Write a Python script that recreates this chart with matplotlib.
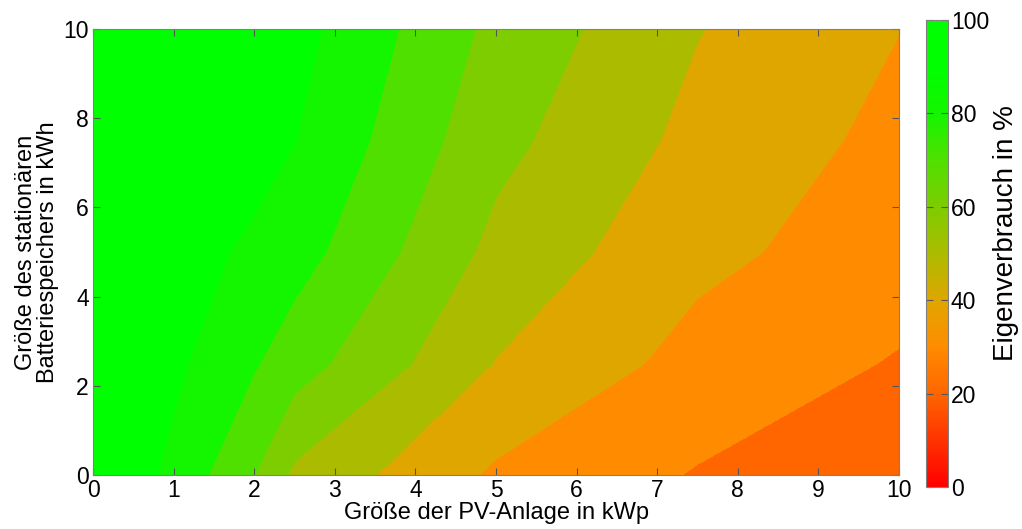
import matplotlib
matplotlib.use("Agg")
import matplotlib.pyplot as plt
import numpy as np
from matplotlib.colors import LinearSegmentedColormap, Normalize
from matplotlib.cm import ScalarMappable

plt.rcParams["font.family"] = ["Liberation Sans", "DejaVu Sans"]

# PV size (x) and battery size (y) grid, self-consumption in %
pv_kwp = [0, 1, 2, 2.5, 5, 7.5, 10]
battery_kwh = [0, 2.5, 5, 7.5, 10]
eigenverbrauch = [
    [100, 87.5, 70.2, 58.0, 38.4, 29.3, 23.0],
    [100, 92.0, 80.9, 74.4, 49.6, 36.6, 29.2],
    [100, 97.0, 87.0, 84.2, 57.2, 42.4, 35.0],
    [100, 98.0, 95.9, 90.2, 62.9, 47.1, 37.3],
    [100, 99.0, 96.5, 93.6, 67.3, 50.4, 40.15],
]
levels = [20, 30, 40, 50, 60, 70, 80, 90, 100]
cbar_ticks = [0, 20, 40, 60, 80, 100]

stops = [0, 0.2, 0.3, 0.4, 0.5, 0.6, 0.7, 0.8, 0.9, 1.0]
stop_colors = ["#FF0000", "#FF6600", "#FF8C00", "#DFA600", "#ACBB00",
               "#7DCD00", "#50E000", "#14F500", "#00FF00", "#00FF00"]
cmap = LinearSegmentedColormap.from_list("rg", list(zip(stops, stop_colors)))
band_colors = [cmap(l / 100) for l in levels[:-1]]

fig = plt.figure(figsize=(10.22, 5.29), dpi=100)
ax = fig.add_axes([93 / 1022, 54 / 529, 806 / 1022, 446 / 529])

X, Y = np.meshgrid(pv_kwp, battery_kwh)
ax.contourf(X, Y, np.array(eigenverbrauch), levels=levels, colors=band_colors,
            antialiased=False)

ax.set_xlim(0, 10)
ax.set_ylim(0, 10)
ax.set_xticks(range(0, 11))
ax.set_yticks(range(0, 11, 2))
ax.tick_params(direction="in", length=5, width=0.8, top=True, right=True,
               labelsize=16.5, color="#555555", pad=3)
for s in ax.spines.values():
    s.set_color("#808080")
    s.set_linewidth(0.8)
ax.set_xlabel("Größe der PV-Anlage in kWp", fontsize=17, labelpad=0)
ax.set_ylabel("Größe des stationären\nBatteriespeichers in kWh", fontsize=17,
              labelpad=3, linespacing=1.0)

cax = fig.add_axes([926 / 1022, 42 / 529, 22 / 1022, 467 / 529])
cb = fig.colorbar(ScalarMappable(norm=Normalize(0, 100), cmap=cmap), cax=cax,
                  ticks=cbar_ticks)
cb.outline.set_edgecolor("#808080")
cb.outline.set_linewidth(0.8)
cax.tick_params(direction="in", length=5, width=0.8, left=True, right=True,
                labelsize=16.5, color="#555555", pad=2)
fig.text(1006 / 1022, 296 / 529, "Eigenverbrauch in %", fontsize=20,
         rotation=90, ha="center", va="center")

fig.savefig("out.png", dpi=100)
